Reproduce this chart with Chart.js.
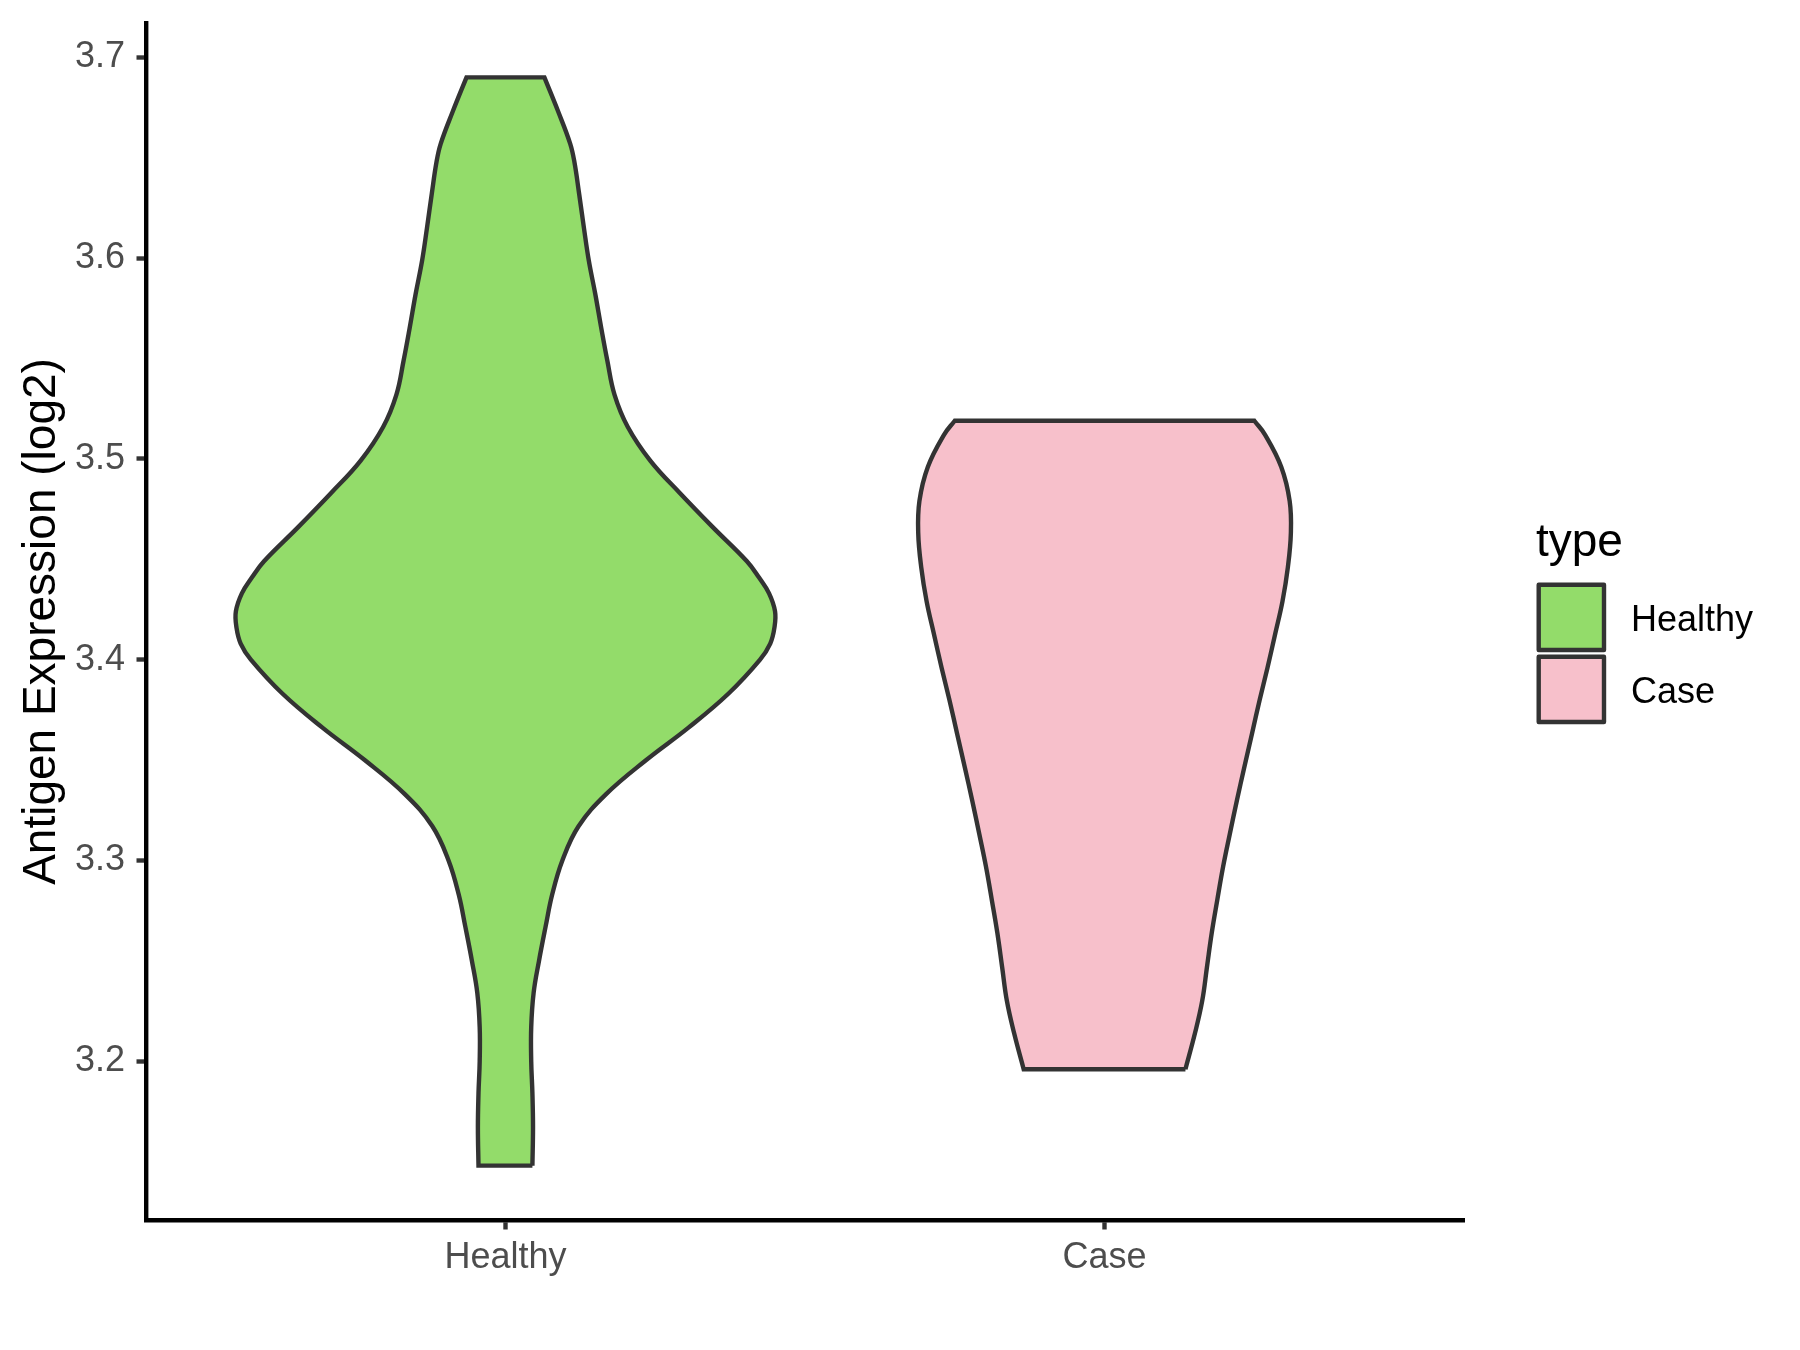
<!DOCTYPE html>
<html>
<head>
<meta charset="utf-8">
<script src="https://cdn.jsdelivr.net/npm/chart.js@4.4.0/dist/chart.umd.min.js"></script>
<style>
  html, body { margin: 0; padding: 0; background: #ffffff; }
  canvas { display: block; }
</style>
</head>
<body>
<canvas id="violin" width="1800" height="1350"></canvas>
<script>
const categories = ['Healthy', 'Case'];
const fillColors = ['#93DC6A', '#F7C0CB'];
const yTickValues = [3.2, 3.3, 3.4, 3.5, 3.6, 3.7];
const yTitle = 'Antigen Expression (log2)';
const legendTitle = 'type';

// violin outlines: expression value -> half width (x units)
const healthyY = [3.148, 3.167, 3.184, 3.200, 3.217, 3.234, 3.250, 3.267, 3.283, 3.300,
  3.317, 3.333, 3.350, 3.366, 3.383, 3.400, 3.408, 3.416, 3.424, 3.433, 3.441, 3.449, 3.466, 3.483,
  3.499, 3.516, 3.532, 3.549, 3.565, 3.582, 3.599, 3.615, 3.632, 3.648, 3.657, 3.673, 3.690];
const healthyHalfWidth = [0.045, 0.046, 0.045, 0.043, 0.043, 0.047, 0.056, 0.067, 0.078, 0.095,
  0.122, 0.168, 0.235, 0.305, 0.372, 0.425, 0.442, 0.449, 0.450, 0.440, 0.423, 0.403, 0.346, 0.291,
  0.242, 0.204, 0.182, 0.170, 0.160, 0.150, 0.139, 0.131, 0.123, 0.115, 0.108, 0.088, 0.065];

const caseY = [3.196, 3.214, 3.230, 3.247, 3.264, 3.280, 3.297, 3.313, 3.330, 3.346, 3.363,
  3.380, 3.396, 3.413, 3.429, 3.446, 3.463, 3.479, 3.496, 3.512, 3.519];
const caseHalfWidth = [0.135, 0.151, 0.163, 0.171, 0.179, 0.188, 0.198, 0.209, 0.221, 0.233, 0.246,
  0.259, 0.272, 0.285, 0.297, 0.306, 0.311, 0.309, 0.295, 0.268, 0.250];

const FONT = "'Liberation Sans', Arial, sans-serif";
const LINE_W = 4.4;

function outline(pos, ys, half) {
  const right = ys.map((y, i) => ({x: pos + half[i], y: y}));
  const left = ys.map((y, i) => ({x: pos - half[i], y: y})).reverse();
  // corner points doubled so the flat ends stay straight with tension on
  return [...right, right[right.length - 1], left[0], ...left, left[left.length - 1], right[0]];
}

const allY = healthyY.concat(caseY);
const yLo = Math.min(...allY), yHi = Math.max(...allY);
const yPad = (yHi - yLo) * 0.05;

const violinFill = {
  id: 'violinFill',
  beforeDatasetDraw(chart, args) {
    const line = args.meta.dataset;
    if (!line) return;
    const ctx = chart.ctx;
    line.updateControlPoints(chart.chartArea, 'x');
    ctx.save();
    ctx.beginPath();
    line.path(ctx);
    ctx.closePath();
    ctx.fillStyle = chart.data.datasets[args.index].backgroundColor;
    ctx.fill();
    ctx.restore();
  }
};

const typeLegend = {
  id: 'typeLegend',
  afterDraw(chart) {
    const ctx = chart.ctx;
    ctx.save();
    ctx.fillStyle = '#000000';
    ctx.textBaseline = 'middle';
    ctx.textAlign = 'left';
    ctx.font = '46px ' + FONT;
    ctx.fillText(legendTitle, 1536, 543);
    chart.data.datasets.forEach((ds, i) => {
      const top = 584.7 + i * 72;
      ctx.fillStyle = ds.backgroundColor;
      ctx.fillRect(1538.7, top, 65.3, 65.3);
      ctx.strokeStyle = '#333333';
      ctx.lineWidth = LINE_W;
      ctx.lineJoin = 'round';
      ctx.strokeRect(1538.7, top, 65.3, 65.3);
      ctx.fillStyle = '#000000';
      ctx.font = '36px ' + FONT;
      ctx.fillText(ds.label, 1631, top + 36);
    });
    ctx.restore();
  }
};

const data = {
  datasets: [
    {
      label: categories[0],
      data: outline(1, healthyY, healthyHalfWidth),
      backgroundColor: fillColors[0]
    },
    {
      label: categories[1],
      data: outline(2, caseY, caseHalfWidth),
      backgroundColor: fillColors[1]
    }
  ].map(ds => Object.assign(ds, {
    borderColor: '#333333',
    borderWidth: LINE_W,
    borderJoinStyle: 'miter',
    pointRadius: 0,
    pointHoverRadius: 0,
    tension: 0.4,
    fill: false
  }))
};

const config = {
  type: 'line',
  data: data,
  options: {
    responsive: false,
    animation: false,
    devicePixelRatio: 1,
    layout: { padding: { top: 23, right: 336, left: 0, bottom: 0 } },
    plugins: {
      legend: { display: false },
      tooltip: { enabled: false }
    },
    scales: {
      x: {
        type: 'linear',
        min: 1 - 0.6,
        max: categories.length + 0.6,
        afterBuildTicks: s => { s.ticks = categories.map((c, i) => ({value: i + 1})); },
        afterFit: s => { s.height = 130; s.paddingLeft = 0; s.paddingRight = 0; },
        ticks: {
          autoSkip: false,
          maxRotation: 0,
          padding: 6.5,
          color: '#4D4D4D',
          font: { family: FONT, size: 36 },
          callback: v => categories[Math.round(v) - 1]
        },
        grid: {
          display: true,
          drawOnChartArea: false,
          drawTicks: true,
          tickLength: 9.5,
          tickWidth: LINE_W,
          tickColor: '#333333'
        },
        border: { display: true, color: '#000000', width: LINE_W }
      },
      y: {
        type: 'linear',
        min: yLo - yPad,
        max: yHi + yPad,
        afterBuildTicks: s => { s.ticks = yTickValues.map(v => ({value: v})); },
        afterFit: s => { s.width = 146; s.paddingTop = 0; s.paddingBottom = 0; },
        ticks: {
          padding: 11.5,
          color: '#4D4D4D',
          font: { family: FONT, size: 36 },
          callback: v => v.toFixed(1)
        },
        grid: {
          display: true,
          drawOnChartArea: false,
          drawTicks: true,
          tickLength: 9.5,
          tickWidth: LINE_W,
          tickColor: '#333333'
        },
        border: { display: true, color: '#000000', width: LINE_W },
        title: {
          display: true,
          text: yTitle,
          color: '#000000',
          font: { family: FONT, size: 46, lineHeight: 1 },
          padding: { top: 19, bottom: 0 }
        }
      }
    }
  },
  plugins: [violinFill, typeLegend]
};

const violinChart = new Chart(document.getElementById('violin').getContext('2d'), config);
</script>
</body>
</html>
